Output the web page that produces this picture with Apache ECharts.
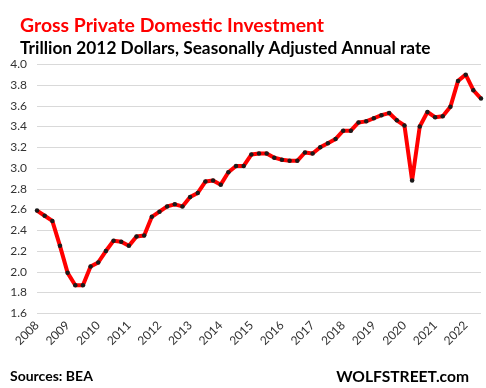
<!DOCTYPE html>
<html>
<head>
<meta charset="utf-8">
<script src="https://cdn.jsdelivr.net/npm/echarts@6/dist/echarts.min.js"></script>
<style>
html,body{margin:0;padding:0;background:#fff;}
#c{width:486px;height:388px;}
</style>
</head>
<body>
<div id="c"></div>
<script>
const years = ['2008','2009','2010','2011','2012','2013','2014','2015','2016','2017','2018','2019','2020','2021','2022'];
const quarters = ['Q1','Q2','Q3','Q4'];
const investment = [
  2.59, 2.54, 2.49, 2.25,
  1.99, 1.87, 1.87, 2.05,
  2.09, 2.20, 2.30, 2.29,
  2.25, 2.34, 2.35, 2.53,
  2.58, 2.63, 2.65, 2.63,
  2.72, 2.76, 2.87, 2.88,
  2.84, 2.96, 3.02, 3.02,
  3.13, 3.14, 3.14, 3.10,
  3.08, 3.07, 3.07, 3.15,
  3.14, 3.20, 3.24, 3.28,
  3.36, 3.36, 3.44, 3.45,
  3.48, 3.51, 3.53, 3.46,
  3.41, 2.88, 3.40, 3.54,
  3.49, 3.50, 3.59, 3.84,
  3.90, 3.75, 3.67
];
const categories = [];
for (const y of years) for (const q of quarters) categories.push(y + ' ' + q);
categories.length = investment.length;

const chart = echarts.init(document.getElementById('c'), null, {renderer: 'canvas'});
const FONT = 'Lato, "Open Sans", sans-serif';
chart.setOption({
  animation: false,
  backgroundColor: '#fff',
  title: [
    {text: 'Gross Private Domestic Investment', left: 15, top: 11,
     textStyle: {color: '#ff0000', fontFamily: FONT, fontWeight: 'bold', fontSize: 19.4}},
    {text: 'Trillion 2012 Dollars, Seasonally Adjusted Annual rate', left: 15, top: 35,
     textStyle: {color: '#000', fontFamily: FONT, fontWeight: 'bold', fontSize: 17.3}},
    {text: 'Sources: BEA', left: 5, top: 364,
     textStyle: {color: '#000', fontFamily: FONT, fontWeight: 'bold', fontSize: 14}},
    {text: 'WOLFSTREET.com', right: 12, top: 364,
     textStyle: {color: '#000', fontFamily: FONT, fontWeight: 'bold', fontSize: 15.6}}
  ],
  grid: {left: 37, right: 5, top: 64.3, bottom: 74.7},
  xAxis: {
    type: 'category',
    data: categories,
    boundaryGap: false,
    axisLine: {show: false},
    axisTick: {show: false},
    splitLine: {show: false},
    axisLabel: {
      interval: 3,
      rotate: 45,
      margin: 10,
      color: '#333',
      fontFamily: FONT,
      fontSize: 12,
      formatter: v => v.split(' ')[0]
    }
  },
  yAxis: {
    type: 'value',
    min: 1.6, max: 4.0, interval: 0.2,
    axisLine: {show: false},
    axisTick: {show: false},
    splitLine: {lineStyle: {color: '#d9d9d9', width: 1}},
    axisLabel: {
      margin: 10,
      color: '#333',
      fontFamily: FONT,
      fontSize: 12,
      formatter: v => v.toFixed(1)
    }
  },
  series: [{
    type: 'line',
    data: investment,
    symbol: 'circle',
    symbolSize: 4.5,
    showSymbol: true,
    itemStyle: {color: '#1a1a1a', borderWidth: 0},
    lineStyle: {color: '#ff0000', width: 4},
    z: 3
  }]
});
</script>
</body>
</html>
